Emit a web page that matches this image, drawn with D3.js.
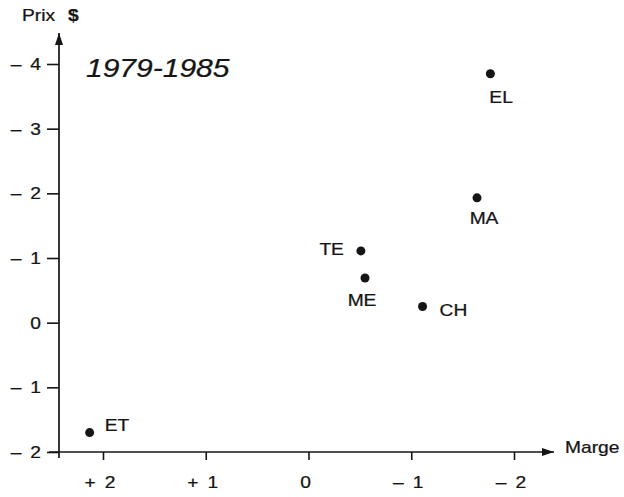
<!DOCTYPE html>
<html>
<head>
<meta charset="utf-8">
<script src="https://cdn.jsdelivr.net/npm/d3@7"></script>
<style>
  html, body { margin: 0; padding: 0; background: #fff; }
  svg { display: block; }
  text { font-family: "Liberation Sans", Arial, Helvetica, sans-serif; fill: #151515; stroke: #151515; stroke-width: 0.25px; }
</style>
</head>
<body>
<svg id="chart" width="624" height="497"></svg>
<script>
// ---- data ----
const labels  = ["EL", "MA", "TE", "ME", "CH", "ET"];
const marge   = [-1.77, -1.64, -0.51, -0.55, -1.11, 2.13];
const prix    = [3.85, 1.93, 1.11, 0.69, 0.25, -1.70];

const xTickValues = [2, 1, 0, -1, -2];
const xTickLabels = ["+ 2", "+ 1", "0", "– 1", "– 2"];
const yTickValues = [-2, -1, 0, 1, 2, 3, 4];
const yTickLabels = ["– 2", "– 1", "0", "– 1", "– 2", "– 3", "– 4"];

const title = "1979-1985";
const xTitle = "Marge";
const yTitle = "Prix";
const yUnit = "$";

// ---- layout (not data) ----
const W = 624, H = 497;
const axisX = 59, axisY = 452;
const stretch = 1.2;
const ink = "#151515";
// label placement relative to its dot
const labelPlace = {
  EL: { anchor: "start",  dx: -1,  dy: 29 },
  MA: { anchor: "middle", dx: 7,   dy: 26 },
  TE: { anchor: "end",    dx: -17, dy: 4.5 },
  ME: { anchor: "middle", dx: -3,  dy: 28 },
  CH: { anchor: "start",  dx: 17,  dy: 9.5 },
  ET: { anchor: "start",  dx: 15,  dy: -1.5 }
};

const svg = d3.select("#chart");

const x = d3.scaleLinear().domain([2, -2]).range([103, 514]);
const y = d3.scaleLinear().domain([-2, 4]).range([452, 64]);

function stext(g, tx, ty, str, anchor, size) {
  return g.append("text")
    .attr("transform", `translate(${tx},${ty}) scale(${stretch},1)`)
    .attr("text-anchor", anchor)
    .attr("font-size", size)
    .text(str);
}

// arrow marker
svg.append("defs").append("marker")
  .attr("id", "arrow")
  .attr("viewBox", "0 0 12 8")
  .attr("refX", 12).attr("refY", 4)
  .attr("markerWidth", 12).attr("markerHeight", 8)
  .attr("markerUnits", "userSpaceOnUse")
  .attr("orient", "auto")
  .append("path").attr("d", "M0,0 L12,4 L0,8 Z").attr("fill", ink);

// axis lines
svg.append("line")
  .attr("x1", axisX - 10).attr("x2", 554)
  .attr("y1", axisY).attr("y2", axisY)
  .attr("stroke", ink).attr("stroke-width", 1.7)
  .attr("marker-end", "url(#arrow)");
svg.append("line")
  .attr("x1", axisX).attr("x2", axisX)
  .attr("y1", axisY + 6).attr("y2", 33)
  .attr("stroke", ink).attr("stroke-width", 1.7)
  .attr("marker-end", "url(#arrow)");

// ticks via d3 axes
const gx = svg.append("g").attr("transform", `translate(0,${axisY})`)
  .call(d3.axisBottom(x).tickValues(xTickValues).tickSize(8).tickFormat(""));
const gy = svg.append("g").attr("transform", `translate(${axisX},0)`)
  .call(d3.axisLeft(y).tickValues(yTickValues).tickSize(12).tickFormat(""));
[gx, gy].forEach(g => {
  g.select(".domain").remove();
  g.selectAll(".tick line").attr("stroke", ink).attr("stroke-width", 1.6);
});

// tick labels
const tl = svg.append("g").attr("word-spacing", 3);
xTickValues.forEach((v, i) => {
  stext(tl, x(v) - 3, 488, xTickLabels[i], "middle", 16);
});
yTickValues.forEach((v, i) => {
  stext(tl, 41, y(v) + 6, yTickLabels[i], "end", 16);
});

// axis titles
stext(svg, 565, 453, xTitle, "start", 16);
stext(svg, 22, 21, yTitle, "start", 16);
stext(svg, 68, 21, yUnit, "start", 16).attr("font-weight", "bold");

// title
svg.append("text")
  .attr("transform", `translate(86,77) scale(${stretch},1)`)
  .attr("font-size", 25)
  .attr("font-style", "italic")
  .text(title);

// points
const pts = labels.map((l, i) => ({ label: l, mx: marge[i], py: prix[i] }));
svg.append("g").selectAll("circle").data(pts).join("circle")
  .attr("cx", d => x(d.mx)).attr("cy", d => y(d.py))
  .attr("r", 4.5).attr("fill", ink);

const lg = svg.append("g");
pts.forEach(d => {
  const p = labelPlace[d.label];
  stext(lg, x(d.mx) + p.dx, y(d.py) + p.dy, d.label, p.anchor, 16);
});
</script>
</body>
</html>
